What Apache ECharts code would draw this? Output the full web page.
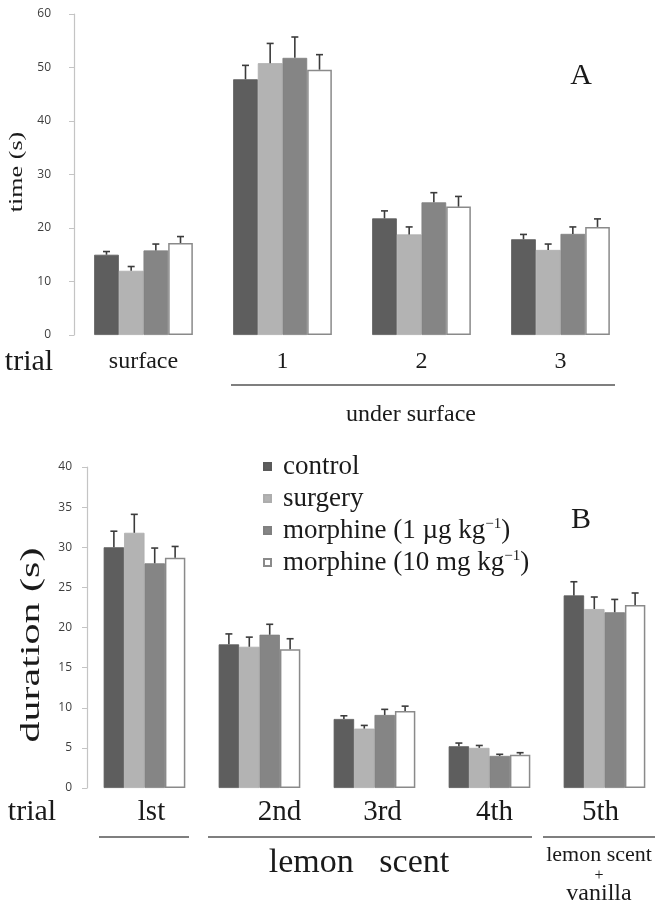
<!DOCTYPE html>
<html>
<head>
<meta charset="utf-8">
<script src="https://cdn.jsdelivr.net/npm/echarts@6/dist/echarts.min.js"></script>
<style>
  html, body { margin: 0; padding: 0; background: #fff; }
  #chart { width: 670px; height: 910px; }
</style>
</head>
<body>
<div id="chart"></div>
<script>
// 分组名称
const groupNames = ['control', 'surgery', 'morphine (1 µg kg-1)', 'morphine (10 mg kg-1)'];

// A: 时间 (s)
const topCategories = ['surface', '1', '2', '3'];
const topControl = [15.0, 47.8, 21.8, 17.9];
const topSurgery = [12.0, 50.8, 18.8, 15.9];
const topMorphineLow = [15.8, 51.8, 24.8, 18.9];
const topMorphineHigh = [17.2, 49.6, 24.0, 20.2];
const topControlErr = [0.6, 2.6, 1.4, 0.9];
const topSurgeryErr = [0.8, 3.7, 1.4, 1.1];
const topMorphineLowErr = [1.2, 3.9, 1.8, 1.3];
const topMorphineHighErr = [1.2, 2.8, 1.9, 1.5];
const topTicks = [0, 60, 10];

// B: 持续时间 (s)
const bottomCategories = ['lst', '2nd', '3rd', '4th', '5th'];
const bottomControl = [30.0, 17.9, 8.6, 5.2, 24.0];
const bottomSurgery = [31.8, 17.6, 7.4, 5.0, 22.3];
const bottomMorphineLow = [28.0, 19.1, 9.1, 4.0, 21.9];
const bottomMorphineHigh = [28.7, 17.3, 9.6, 4.15, 22.8];
const bottomControlErr = [2.0, 1.3, 0.4, 0.4, 1.7];
const bottomSurgeryErr = [2.3, 1.2, 0.4, 0.3, 1.5];
const bottomMorphineLowErr = [1.9, 1.3, 0.7, 0.2, 1.6];
const bottomMorphineHighErr = [1.4, 1.3, 0.6, 0.25, 1.5];
const bottomTicks = [0, 40, 5];

// 下方标签的水平微调 (px)
const bottomLabelShift = [7, 20, 8, 5, -4];

const barColors = ['#5e5e5e', '#b3b3b3', '#858585', '#ffffff'];
const borderColors = ['#5a5a5a', '#adadad', '#808080', '#8a8a8a'];
const CAT_GAP = 0.29;
const SERIF = '"Liberation Serif", "DejaVu Serif", serif';

window.addEventListener('DOMContentLoaded', function() {
    initChart();
});

function barSeries(idx, data, gridIdx) {
    return {
        name: groupNames[idx],
        type: 'bar',
        xAxisIndex: gridIdx,
        yAxisIndex: gridIdx,
        data: data,
        barGap: '0%',
        barCategoryGap: (CAT_GAP * 100) + '%',
        itemStyle: {
            color: barColors[idx],
            borderColor: borderColors[idx],
            borderWidth: idx === 3 ? 1.5 : 0.8
        },
        silent: true
    };
}

// 误差线（只画向上的部分）
function errorSeries(gridIdx, means, errs) {
    const data = [];
    means.forEach(function(arr, k) {
        arr.forEach(function(v, c) {
            data.push([c, k, v, errs[k][c]]);
        });
    });
    return {
        type: 'custom',
        name: 'error',
        xAxisIndex: gridIdx,
        yAxisIndex: gridIdx,
        z: 5,
        silent: true,
        encode: { x: 0, y: 2 },
        data: data,
        renderItem: function(params, api) {
            const c = api.value(0), k = api.value(1);
            const mean = api.value(2), err = api.value(3);
            const base = api.coord([c, mean]);
            const top = api.coord([c, mean + err]);
            const band = api.size([1, 0])[0];
            const groupW = band * (1 - CAT_GAP);
            const bw = groupW / 4;
            const x = base[0] - groupW / 2 + bw * (k + 0.5);
            const style = { stroke: '#3c3c3c', lineWidth: 1.6 };
            return {
                type: 'group',
                children: [
                    { type: 'line', shape: { x1: x, y1: base[1], x2: x, y2: top[1] }, style: style },
                    { type: 'line', shape: { x1: x - 3.5, y1: top[1], x2: x + 3.5, y2: top[1] }, style: style }
                ]
            };
        }
    };
}

function valueAxis(gridIdx, ticks, margin) {
    return {
        type: 'value',
        gridIndex: gridIdx,
        min: ticks[0],
        max: ticks[1],
        interval: ticks[2],
        axisLine: { show: true, lineStyle: { color: '#c4c4c4', width: 1.2 } },
        axisTick: { show: true, length: 5, lineStyle: { color: '#c4c4c4' } },
        splitLine: { show: false },
        axisLabel: {
            color: '#3e3e3e',
            fontFamily: '"Open Sans", sans-serif',
            fontSize: 12,
            margin: margin
        }
    };
}

function categoryAxis(gridIdx, cats, fontSize, margin, shifts) {
    const rich = {};
    if (shifts) {
        shifts.forEach(function(s, i) {
            rich['c' + i] = {
                fontFamily: SERIF, fontSize: fontSize, color: '#1a1a1a',
                padding: s >= 0 ? [0, 0, 0, 2 * s] : [0, -2 * s, 0, 0]
            };
        });
    }
    return {
        type: 'category',
        gridIndex: gridIdx,
        data: cats,
        axisLine: { show: false },
        axisTick: { show: false },
        axisLabel: {
            interval: 0,
            hideOverlap: false,
            color: '#1a1a1a',
            fontFamily: SERIF,
            fontSize: fontSize,
            margin: margin,
            formatter: shifts ? function(v, i) { return '{c' + i + '|' + v + '}'; } : null,
            rich: rich
        }
    };
}

function txt(x, y, text, size, extra) {
    return Object.assign({
        type: 'text',
        x: x,
        y: y,
        silent: true,
        style: {
            text: text,
            font: size + 'px ' + SERIF,
            fill: '#1a1a1a',
            align: 'center',
            verticalAlign: 'middle'
        }
    }, extra || {});
}

function hline(x1, x2, y) {
    return {
        type: 'line',
        silent: true,
        shape: { x1: x1, y1: y, x2: x2, y2: y },
        style: { stroke: '#555', lineWidth: 1.6 }
    };
}

function initChart() {
    const chartDom = document.getElementById('chart');
    const myChart = echarts.init(chartDom);

    const option = {
        animation: false,
        backgroundColor: '#fff',
        grid: [
            { left: 74, top: 14, width: 556, height: 321 },
            { left: 87, top: 467, width: 575, height: 321 }
        ],
        xAxis: [
            categoryAxis(0, topCategories, 24, 15),
            categoryAxis(1, bottomCategories, 29, 10, bottomLabelShift)
        ],
        yAxis: [
            valueAxis(0, topTicks, 23),
            valueAxis(1, bottomTicks, 15)
        ],
        legend: {
            data: groupNames,
            orient: 'vertical',
            left: 258,
            top: 448,
            icon: 'rect',
            itemWidth: 7,
            itemHeight: 7,
            itemGap: 5,
            selectedMode: false,
            formatter: function(name) {
                const m = name.match(/^(.*kg)-1\)$/);
                if (m) return '{f|' + m[1] + '}{s|−1}{t|)}';
                return '{f|' + name + '}';
            },
            textStyle: {
                color: '#1a1a1a',
                rich: {
                    f: { fontFamily: SERIF, fontSize: 27, color: '#1a1a1a', lineHeight: 27, padding: [0, 0, 0, 7] },
                    t: { fontFamily: SERIF, fontSize: 27, color: '#1a1a1a', lineHeight: 27 },
                    s: { fontFamily: SERIF, fontSize: 15, color: '#1a1a1a', verticalAlign: 'top', lineHeight: 27, padding: [0, 0, 10, 0] }
                }
            }
        },
        series: [
            barSeries(0, topControl, 0),
            barSeries(1, topSurgery, 0),
            barSeries(2, topMorphineLow, 0),
            barSeries(3, topMorphineHigh, 0),
            errorSeries(0,
                [topControl, topSurgery, topMorphineLow, topMorphineHigh],
                [topControlErr, topSurgeryErr, topMorphineLowErr, topMorphineHighErr]),
            barSeries(0, bottomControl, 1),
            barSeries(1, bottomSurgery, 1),
            barSeries(2, bottomMorphineLow, 1),
            barSeries(3, bottomMorphineHigh, 1),
            errorSeries(1,
                [bottomControl, bottomSurgery, bottomMorphineLow, bottomMorphineHigh],
                [bottomControlErr, bottomSurgeryErr, bottomMorphineLowErr, bottomMorphineHighErr])
        ],
        graphic: [
            // A 图标注
            txt(17, 172, 'time (s)', 18, { rotation: Math.PI / 2, scaleX: 1.45 }),
            txt(29, 362, 'trial', 30),
            hline(231, 615, 385),
            txt(411, 415, 'under surface', 24),
            txt(581, 76, 'A', 30),
            // B 图标注
            txt(32, 645, 'duration (s)', 28, { rotation: Math.PI / 2, scaleX: 1.5 }),
            txt(581, 520, 'B', 30),
            txt(32, 812, 'trial', 30),
            hline(99, 189, 837),
            hline(208, 532, 837),
            hline(543, 655, 837),
            txt(359, 863, 'lemon   scent', 34),
            txt(599, 855, 'lemon scent', 22),
            txt(599, 876, '+', 16),
            txt(599, 894, 'vanilla', 24)
        ]
    };

    myChart.setOption(option);
    window.addEventListener('resize', () => myChart.resize());
}
</script>
</body>
</html>
